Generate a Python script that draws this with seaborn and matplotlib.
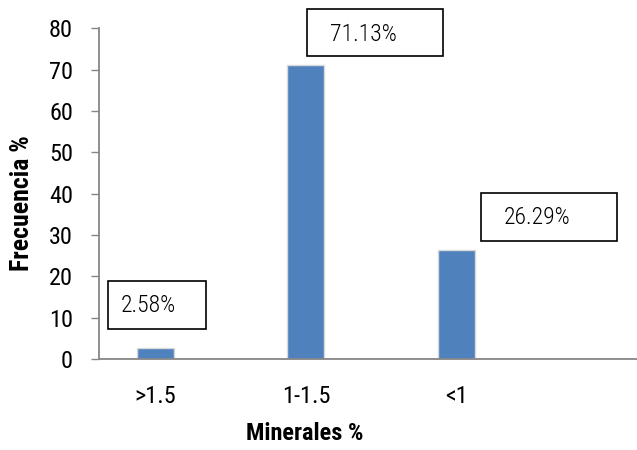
import matplotlib
matplotlib.use("Agg")
import matplotlib.pyplot as plt
import matplotlib.patches as mpatches
import matplotlib.transforms as mtransforms
import pandas as pd
import seaborn as sns

# Data
categories = [">1.5", "1-1.5", "<1"]
frequencies = [2.58, 71.13, 26.29]
value_labels = ["2.58%", "71.13%", "26.29%"]
y_ticks = [0, 10, 20, 30, 40, 50, 60, 70, 80]

# Label box layout, in pixels relative to the top centre of each bar:
# (box left, box bottom, box width, box height, text x, text y)
label_boxes = [
    (-47.5, 19.3, 98, 48, -7.5, 43.3),
    (1.0, 8.5, 136, 47, 58.0, 30.0),
    (24.5, 9.0, 136, 48, 80.5, 32.5),
]

BAR_COLOR = "#4F81BD"
AXIS_COLOR = "#868686"

sns.set_theme(style="white")
plt.rcParams["font.family"] = ["Roboto Condensed", "DejaVu Sans"]

W, H, DPI = 637, 450, 100
fig = plt.figure(figsize=(W / DPI, H / DPI), dpi=DPI)
ax = fig.add_axes([99 / W, 91 / H, 538 / W, 330.7 / H])

df = pd.DataFrame({"Minerales": categories, "Frecuencia": frequencies})
sns.barplot(data=df, x="Minerales", y="Frecuencia", color=BAR_COLOR,
            saturation=1, width=0.245, edgecolor="#d9d9d9", linewidth=1.0,
            ax=ax)

ax.set_xlim(-0.375, 3.2)
ax.set_ylim(0, 80)
ax.set_yticks(y_ticks)

for side in ("top", "right"):
    ax.spines[side].set_visible(False)
for side in ("left", "bottom"):
    ax.spines[side].set_color(AXIS_COLOR)
    ax.spines[side].set_linewidth(1.3)

ax.tick_params(axis="y", direction="out", length=5.8, width=1.0,
               color=AXIS_COLOR, pad=13, labelsize=17.5, labelcolor="black", left=True)
ax.tick_params(axis="x", length=0, pad=19, labelsize=17.5, labelcolor="black")

ax.set_xlabel("Minerales %", fontsize=17.5, fontweight="bold", color="black")
ax.set_ylabel("Frecuencia %", fontsize=18.5, fontweight="bold", color="black")
ax.xaxis.label.set_verticalalignment("center")
ax.xaxis.set_label_coords(0.383, -0.224)
ax.yaxis.label.set_verticalalignment("center")
ax.yaxis.label.set_horizontalalignment("center")
ax.yaxis.set_label_coords(-0.143, 0.472)

# Boxed value labels anchored to the top of each bar
for i, (value, text) in enumerate(zip(frequencies, value_labels)):
    bx, by, bw, bh, tx, ty = label_boxes[i]
    px, py = ax.transData.transform((i, value))
    rect = mpatches.Rectangle((px + bx, py + by), bw, bh,
                              transform=mtransforms.IdentityTransform(),
                              facecolor="white", edgecolor="black",
                              linewidth=1.2, zorder=5)
    fig.patches.append(rect)
    fig.text((px + tx) / W, (py + ty) / H, text, ha="center", va="center",
             fontsize=17, fontweight="light", color="black", zorder=6)

fig.savefig("out.png", dpi=DPI)
